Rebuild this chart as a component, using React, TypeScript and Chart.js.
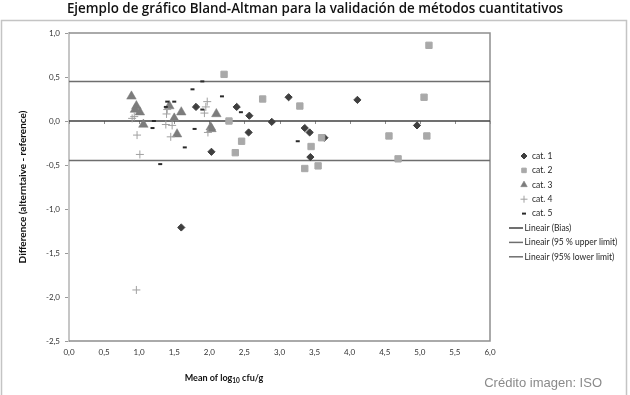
import React, { useEffect, useRef } from 'react';
import { Chart, registerables } from 'chart.js';
import { drawPoint } from 'chart.js/helpers';

Chart.register(...registerables);

// ---- data ----
const cat1X = [1.81, 2.03, 2.39, 2.57, 3.13, 4.11, 2.89, 2.56, 3.36, 3.43, 3.44, 3.64, 4.96, 1.60];
const cat1Y = [0.16, -0.35, 0.16, 0.06, 0.27, 0.24, -0.01, -0.13, -0.08, -0.13, -0.41, -0.19, -0.05, -1.21];

const cat2X = [2.21, 2.76, 3.29, 2.28, 2.46, 2.37, 3.60, 3.45, 3.36, 3.55, 5.13, 5.06, 4.56, 5.10, 4.69];
const cat2Y = [0.53, 0.25, 0.17, 0.0, -0.23, -0.36, -0.19, -0.29, -0.54, -0.51, 0.86, 0.27, -0.17, -0.17, -0.43];

const cat3X = [0.89, 0.96, 0.94, 1.01, 1.06, 1.43, 1.50, 1.60, 1.54, 2.10, 2.02, 2.03];
const cat3Y = [0.28, 0.17, 0.13, 0.10, -0.04, 0.17, 0.03, 0.10, -0.15, 0.08, -0.07, -0.09];

const cat4X = [0.90, 0.93, 0.97, 1.01, 1.39, 1.40, 1.38, 1.45, 1.47, 1.97, 1.95, 1.93, 1.98, 0.96];
const cat4Y = [0.03, 0.05, -0.16, -0.38, 0.08, 0.13, -0.04, -0.18, -0.05, 0.22, 0.16, 0.09, -0.13, -1.92];

const cat5X = [1.90, 1.76, 1.40, 1.50, 1.38, 1.90, 1.21, 1.19, 1.79, 1.65, 1.30, 2.18, 2.45, 3.26];
const cat5Y = [0.45, 0.36, 0.22, 0.22, 0.16, 0.13, 0.0, -0.08, -0.09, -0.30, -0.49, 0.28, 0.10, -0.23];

const biasValue = 0.0;
const upperLimit = 0.45;
const lowerLimit = -0.45;

const xRange = [0, 6];
const yRange = [-2.5, 1.0];
const tickStep = 0.5;

const seriesLabels = ['cat. 1', 'cat. 2', 'cat. 3', 'cat. 4', 'cat. 5'];
const lineLabels = ['Lineair (Bias)', 'Lineair (95 % upper limit)', 'Lineair (95% lower limit)'];

const chartTitle = 'Ejemplo de gráfico Bland-Altman para la validación de métodos cuantitativos';
const yTitle = 'Difference (alterntaive - reference)';
const xTitleParts = ['Mean of log', '10', ' cfu/g'];
const creditText = 'Crédito imagen: ISO';

const pts = (xs: number[], ys: number[]) => xs.map((x, i) => ({ x, y: ys[i] }));
const fmt = (v: number) => Number(v).toFixed(1).replace('.', ',');

const markerStyles = [
  { pointStyle: 'rectRot', radius: 3.6, fill: '#3f3f3f', stroke: '#3f3f3f', bw: 1 },
  { pointStyle: 'rect', radius: 4.5, fill: '#a9a9a9', stroke: '#a9a9a9', bw: 1 },
  { pointStyle: 'triangle', radius: 5.5, fill: '#7c7c7c', stroke: '#7c7c7c', bw: 0.5 },
  { pointStyle: 'cross', radius: 4, fill: '#a0a0a0', stroke: '#a0a0a0', bw: 1 },
  { pointStyle: 'line', radius: 2, fill: '#2a2a2a', stroke: '#2a2a2a', bw: 2 },
];
const lineStyles = [
  { color: '#404040', width: 1.5 },
  { color: '#6e6e6e', width: 1.5 },
  { color: '#6e6e6e', width: 1.5 },
];

const decorPlugin = {
  id: 'decor',
  beforeDatasetsDraw(chart: any) {
    const { ctx, chartArea: a, scales } = chart;
    ctx.save();
    ctx.strokeStyle = '#8f8f8f';
    ctx.lineWidth = 1.5;
    ctx.beginPath();
    ctx.moveTo(a.left, a.top);
    ctx.lineTo(a.right, a.top);
    ctx.lineTo(a.right, a.bottom);
    ctx.lineTo(a.left, a.bottom);
    ctx.stroke();
    const y0 = scales.y.getPixelForValue(0);
    ctx.strokeStyle = '#8f8f8f';
    ctx.lineWidth = 1;
    ctx.beginPath();
    for (let v = xRange[0]; v <= xRange[1] + 1e-9; v += tickStep) {
      const px = Math.round(scales.x.getPixelForValue(v)) + 0.5;
      ctx.moveTo(px, y0);
      ctx.lineTo(px, y0 + 3);
    }
    ctx.stroke();
    ctx.restore();
  },
  afterDraw(chart: any) {
    const { ctx, chartArea: a } = chart;
    ctx.save();
    ctx.strokeStyle = '#c4c4c4';
    ctx.lineWidth = 1.5;
    ctx.beginPath();
    ctx.moveTo(1.5, 395);
    ctx.lineTo(1.5, 20.5);
    ctx.lineTo(626.5, 20.5);
    ctx.lineTo(626.5, 395);
    ctx.stroke();

    ctx.fillStyle = '#111111';
    ctx.font = '600 13.4px "Open Sans"';
    ctx.textAlign = 'center';
    ctx.textBaseline = 'middle';
    ctx.fillText(chartTitle, 315, 9);

    ctx.save();
    ctx.translate(23, (a.top + a.bottom) / 2);
    ctx.rotate(-Math.PI / 2);
    ctx.font = 'bold 10px Lato';
    ctx.fillStyle = '#111111';
    ctx.fillText(yTitle, 0, 0);
    ctx.restore();

    const big = 'bold 9px Lato';
    const small = 'bold 6.5px Lato';
    ctx.font = big;
    const w1 = ctx.measureText(xTitleParts[0]).width;
    ctx.font = small;
    const w2 = ctx.measureText(xTitleParts[1]).width;
    ctx.font = big;
    const w3 = ctx.measureText(xTitleParts[2]).width;
    const total = w1 + w2 + w3;
    let tx = 224 - total / 2;
    const ty = 377;
    ctx.textAlign = 'left';
    ctx.textBaseline = 'alphabetic';
    ctx.fillText(xTitleParts[0], tx, ty + 3.5);
    tx += w1;
    ctx.font = small;
    ctx.fillText(xTitleParts[1], tx, ty + 5.5);
    tx += w2;
    ctx.font = big;
    ctx.fillText(xTitleParts[2], tx, ty + 3.5);

    const lx = 524;
    const ly0 = 156;
    const dy = 14.4;
    ctx.font = '8.5px Lato';
    ctx.textBaseline = 'middle';
    seriesLabels.forEach((lab, i) => {
      const m = markerStyles[i];
      const y = ly0 + i * dy;
      ctx.fillStyle = m.fill;
      ctx.strokeStyle = m.stroke;
      ctx.lineWidth = m.bw;
      const r = i === 2 ? 3.8 : i === 1 ? 3.2 : i === 0 ? 3 : i === 3 ? 3.5 : 2;
      drawPoint(ctx, { pointStyle: m.pointStyle, radius: r, rotation: 0, borderWidth: m.bw }, lx, y);
      ctx.fillStyle = '#262626';
      ctx.fillText(lab, lx + 8, y);
    });
    lineLabels.forEach((lab, j) => {
      const y = ly0 + (seriesLabels.length + j) * dy;
      const s = lineStyles[j];
      ctx.strokeStyle = s.color;
      ctx.lineWidth = s.width;
      ctx.beginPath();
      ctx.moveTo(509, y);
      ctx.lineTo(523, y);
      ctx.stroke();
      ctx.fillStyle = '#262626';
      ctx.fillText(lab, 524.5, y);
    });

    ctx.font = '13px "Liberation Sans"';
    ctx.fillStyle = '#8a8a8a';
    ctx.textAlign = 'right';
    ctx.textBaseline = 'middle';
    ctx.fillText(creditText, 602, 383);
    ctx.restore();
  },
};

export default function App() {
  const ref = useRef<HTMLCanvasElement | null>(null);
  useEffect(() => {
    if (!ref.current) return;
    const scatterSets = [
      pts(cat1X, cat1Y),
      pts(cat2X, cat2Y),
      pts(cat3X, cat3Y),
      pts(cat4X, cat4Y),
      pts(cat5X, cat5Y),
    ].map((data, i) => {
      const m = markerStyles[i];
      return {
        type: 'scatter' as const,
        label: seriesLabels[i],
        data,
        pointStyle: m.pointStyle,
        pointRadius: m.radius,
        pointHoverRadius: m.radius,
        backgroundColor: m.fill,
        borderColor: m.stroke,
        borderWidth: m.bw,
        order: 5 - i,
      };
    });
    const lineVals = [biasValue, upperLimit, lowerLimit];
    const lineSets = lineVals.map((v, j) => ({
      type: 'line' as const,
      label: lineLabels[j],
      data: [
        { x: xRange[0], y: v },
        { x: xRange[1], y: v },
      ],
      borderColor: lineStyles[j].color,
      borderWidth: lineStyles[j].width,
      pointRadius: 0,
      fill: false,
      order: 10 + j,
    }));

    const chart = new Chart(ref.current, {
      type: 'scatter',
      data: { datasets: [...scatterSets, ...lineSets] as any },
      options: {
        animation: false,
        responsive: true,
        maintainAspectRatio: false,
        layout: { padding: { top: 33, right: 140, left: 0, bottom: 0 } },
        plugins: { legend: { display: false }, tooltip: { enabled: false }, title: { display: false } },
        scales: {
          x: {
            type: 'linear',
            min: xRange[0],
            max: xRange[1],
            ticks: {
              stepSize: tickStep,
              callback: (v: any) => fmt(v),
              font: { family: 'Lato', size: 8 },
              color: '#333333',
              padding: 7,
              maxRotation: 0,
              autoSkip: false,
            },
            grid: { display: false, drawTicks: false },
            border: { display: false },
            afterFit: (s: any) => {
              s.height = 54;
            },
          },
          y: {
            type: 'linear',
            min: yRange[0],
            max: yRange[1],
            ticks: {
              stepSize: tickStep,
              callback: (v: any) => fmt(v),
              font: { family: 'Lato', size: 8 },
              color: '#333333',
              padding: 5,
              autoSkip: false,
            },
            grid: { drawOnChartArea: false, drawTicks: true, tickLength: 4, color: '#9a9a9a' },
            border: { display: true, color: '#c6c6c6', width: 2 },
            afterFit: (s: any) => {
              s.width = 69;
            },
          },
        },
      },
      plugins: [decorPlugin],
    });
    return () => chart.destroy();
  }, []);

  return (
    <div style={{ position: 'fixed', left: 0, top: 0, width: 630, height: 395, background: '#ffffff' }}>
      <canvas ref={ref} />
    </div>
  );
}
